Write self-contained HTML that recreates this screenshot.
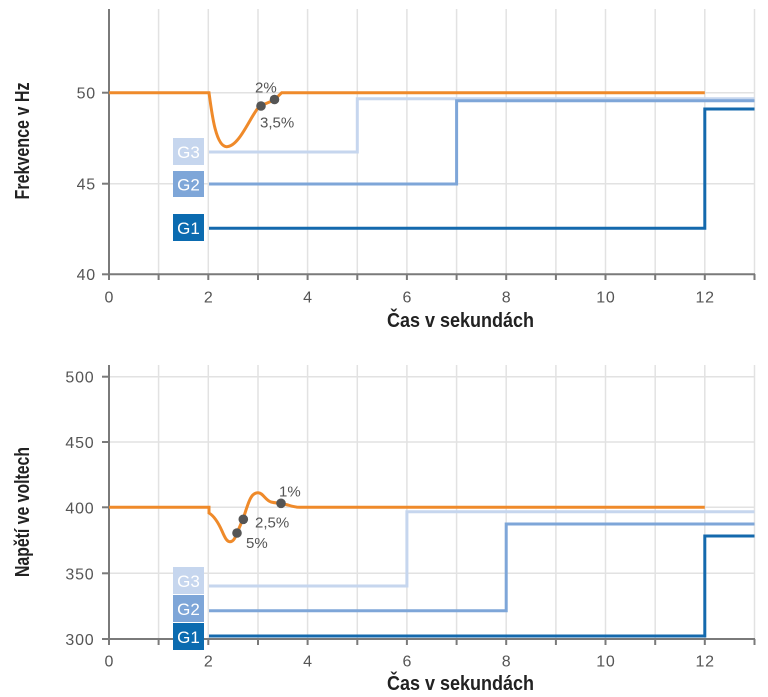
<!DOCTYPE html>
<html><head><meta charset="utf-8"><style>
html,body{margin:0;padding:0;background:#fff;}
svg{display:block;}
text{font-family:"Liberation Sans",sans-serif;}
</style></head><body>
<svg width="768" height="697" viewBox="0 0 768 697" xmlns="http://www.w3.org/2000/svg">
<rect width="768" height="697" fill="#fff"/>
<!-- ===== TOP CHART ===== -->
<g stroke="#e2e2e2" stroke-width="1.5" fill="none">
<line x1="158.6" y1="9" x2="158.6" y2="274"/>
<line x1="208.3" y1="9" x2="208.3" y2="274"/>
<line x1="258" y1="9" x2="258" y2="274"/>
<line x1="307.6" y1="9" x2="307.6" y2="274"/>
<line x1="357.3" y1="9" x2="357.3" y2="274"/>
<line x1="406.9" y1="9" x2="406.9" y2="274"/>
<line x1="456.6" y1="9" x2="456.6" y2="274"/>
<line x1="506.2" y1="9" x2="506.2" y2="274"/>
<line x1="555.9" y1="9" x2="555.9" y2="274"/>
<line x1="605.5" y1="9" x2="605.5" y2="274"/>
<line x1="655.2" y1="9" x2="655.2" y2="274"/>
<line x1="704.8" y1="9" x2="704.8" y2="274"/>
<line x1="754.5" y1="9" x2="754.5" y2="274"/>
<line x1="109" y1="92.7" x2="754.5" y2="92.7"/>
<line x1="109" y1="183.7" x2="754.5" y2="183.7"/>
</g>
<g stroke="#7a7a7a" stroke-width="2" fill="none">
<line x1="109" y1="9" x2="109" y2="275"/>
<line x1="108" y1="274.3" x2="755" y2="274.3"/>
<line x1="102" y1="92.7" x2="109" y2="92.7"/>
<line x1="102" y1="183.7" x2="109" y2="183.7"/>
<line x1="102" y1="274.3" x2="109" y2="274.3"/>
<line x1="109" y1="274" x2="109" y2="280"/>
<line x1="158.6" y1="274" x2="158.6" y2="280"/>
<line x1="208.3" y1="274" x2="208.3" y2="280"/>
<line x1="258" y1="274" x2="258" y2="280"/>
<line x1="307.6" y1="274" x2="307.6" y2="280"/>
<line x1="357.3" y1="274" x2="357.3" y2="280"/>
<line x1="406.9" y1="274" x2="406.9" y2="280"/>
<line x1="456.6" y1="274" x2="456.6" y2="280"/>
<line x1="506.2" y1="274" x2="506.2" y2="280"/>
<line x1="555.9" y1="274" x2="555.9" y2="280"/>
<line x1="605.5" y1="274" x2="605.5" y2="280"/>
<line x1="655.2" y1="274" x2="655.2" y2="280"/>
<line x1="704.8" y1="274" x2="704.8" y2="280"/>
<line x1="754.5" y1="274" x2="754.5" y2="280"/>
</g>
<g fill="#555" font-size="16" letter-spacing="0.8">
<text x="96" y="98.5" text-anchor="end">50</text>
<text x="96" y="189.5" text-anchor="end">45</text>
<text x="96" y="280" text-anchor="end">40</text>
<g text-anchor="middle">
<text x="109.4" y="302.5">0</text>
<text x="208.7" y="302.5">2</text>
<text x="308" y="302.5">4</text>
<text x="407.3" y="302.5">6</text>
<text x="506.6" y="302.5">8</text>
<text x="605.9" y="302.5">10</text>
<text x="705.2" y="302.5">12</text>
</g>
</g>
<text x="460.5" y="327" font-size="20" font-weight="bold" fill="#222" textLength="147" lengthAdjust="spacingAndGlyphs" text-anchor="middle">Čas v sekundách</text>
<text transform="translate(29,141) rotate(-90)" x="0" y="0" font-size="20" font-weight="bold" fill="#222" textLength="117" lengthAdjust="spacingAndGlyphs" text-anchor="middle">Frekvence v Hz</text>
<!-- series -->
<g fill="none" stroke-width="3">
<polyline stroke="#c6d6ee" points="209,152 357.3,152 357.3,98.8 754.5,98.8"/>
<polyline stroke="#7ea6d8" points="209,184 456.6,184 456.6,100.8 754.5,100.8"/>
<polyline stroke="#1469ad" points="209,228.3 704.8,228.3 704.8,109 754.5,109"/>
<path stroke="#ef8a2a" d="M109,92.7 L209,92.7 C212,115 216,146.7 226.7,146.7 C240,146.7 252,112 260,106 L274.3,100 L281.7,92.7 L704.8,92.7"/>
</g>
<g fill="#555">
<circle cx="261" cy="106" r="4.8"/>
<circle cx="274.5" cy="99.5" r="4.8"/>
</g>
<g fill="#555" font-size="15">
<text x="255" y="92.5">2%</text>
<text x="260" y="127.5">3,5%</text>
</g>
<g>
<rect x="173" y="138" width="31" height="27" fill="#c6d6ee"/>
<rect x="173" y="171" width="31" height="26" fill="#7ea6d8"/>
<rect x="173" y="214" width="31" height="27" fill="#0b6bb0"/>
</g>
<g fill="#fff" font-size="17" text-anchor="middle">
<text x="188.5" y="158">G3</text>
<text x="188.5" y="190.5">G2</text>
<text x="188.5" y="234">G1</text>
</g>

<!-- ===== BOTTOM CHART ===== -->
<g stroke="#e2e2e2" stroke-width="1.5" fill="none">
<line x1="158.6" y1="365" x2="158.6" y2="639"/>
<line x1="208.3" y1="365" x2="208.3" y2="639"/>
<line x1="258" y1="365" x2="258" y2="639"/>
<line x1="307.6" y1="365" x2="307.6" y2="639"/>
<line x1="357.3" y1="365" x2="357.3" y2="639"/>
<line x1="406.9" y1="365" x2="406.9" y2="639"/>
<line x1="456.6" y1="365" x2="456.6" y2="639"/>
<line x1="506.2" y1="365" x2="506.2" y2="639"/>
<line x1="555.9" y1="365" x2="555.9" y2="639"/>
<line x1="605.5" y1="365" x2="605.5" y2="639"/>
<line x1="655.2" y1="365" x2="655.2" y2="639"/>
<line x1="704.8" y1="365" x2="704.8" y2="639"/>
<line x1="754.5" y1="365" x2="754.5" y2="639"/>
<line x1="109" y1="376.7" x2="754.5" y2="376.7"/>
<line x1="109" y1="442" x2="754.5" y2="442"/>
<line x1="109" y1="507.3" x2="754.5" y2="507.3"/>
<line x1="109" y1="573.3" x2="754.5" y2="573.3"/>
</g>
<g stroke="#7a7a7a" stroke-width="2" fill="none">
<line x1="109" y1="365" x2="109" y2="640"/>
<line x1="108" y1="639" x2="755" y2="639"/>
<line x1="102" y1="376.7" x2="109" y2="376.7"/>
<line x1="102" y1="442" x2="109" y2="442"/>
<line x1="102" y1="507.3" x2="109" y2="507.3"/>
<line x1="102" y1="573.3" x2="109" y2="573.3"/>
<line x1="102" y1="639" x2="109" y2="639"/>
<line x1="109" y1="639" x2="109" y2="645"/>
<line x1="158.6" y1="639" x2="158.6" y2="645"/>
<line x1="208.3" y1="639" x2="208.3" y2="645"/>
<line x1="258" y1="639" x2="258" y2="645"/>
<line x1="307.6" y1="639" x2="307.6" y2="645"/>
<line x1="357.3" y1="639" x2="357.3" y2="645"/>
<line x1="406.9" y1="639" x2="406.9" y2="645"/>
<line x1="456.6" y1="639" x2="456.6" y2="645"/>
<line x1="506.2" y1="639" x2="506.2" y2="645"/>
<line x1="555.9" y1="639" x2="555.9" y2="645"/>
<line x1="605.5" y1="639" x2="605.5" y2="645"/>
<line x1="655.2" y1="639" x2="655.2" y2="645"/>
<line x1="704.8" y1="639" x2="704.8" y2="645"/>
<line x1="754.5" y1="639" x2="754.5" y2="645"/>
</g>
<g fill="#555" font-size="16" letter-spacing="0.8">
<text x="94.5" y="382.5" text-anchor="end">500</text>
<text x="94.5" y="448" text-anchor="end">450</text>
<text x="94.5" y="513.5" text-anchor="end">400</text>
<text x="94.5" y="579.5" text-anchor="end">350</text>
<text x="94.5" y="645" text-anchor="end">300</text>
<g text-anchor="middle">
<text x="109.4" y="666.5">0</text>
<text x="208.7" y="666.5">2</text>
<text x="308" y="666.5">4</text>
<text x="407.3" y="666.5">6</text>
<text x="506.6" y="666.5">8</text>
<text x="605.9" y="666.5">10</text>
<text x="705.2" y="666.5">12</text>
</g>
</g>
<text x="460.5" y="690" font-size="20" font-weight="bold" fill="#222" textLength="147" lengthAdjust="spacingAndGlyphs" text-anchor="middle">Čas v sekundách</text>
<text transform="translate(29,512) rotate(-90)" x="0" y="0" font-size="20" font-weight="bold" fill="#222" textLength="130" lengthAdjust="spacingAndGlyphs" text-anchor="middle">Napětí ve voltech</text>
<g fill="none" stroke-width="3">
<polyline stroke="#c6d6ee" points="209,586 406.9,586 406.9,511.7 754.5,511.7"/>
<polyline stroke="#7ea6d8" points="209,610.7 506.2,610.7 506.2,524 754.5,524"/>
<polyline stroke="#1469ad" points="209,636 704.8,636 704.8,536 754.5,536"/>
<path stroke="#ef8a2a" d="M109,507.3 L209,507.3 L209,513 C214,516 218,522 222,531 C225,538 227,541.7 230,541.7 C234,541.7 236,536 237,533 L243,519 C248,505 250,492.7 258,492.7 C263,492.7 265,500 271,502 C276,503.3 281,503 288,505 C294,507 297,507.3 300,507.3 L704.8,507.3"/>
</g>
<g fill="#555">
<circle cx="237" cy="533" r="4.8"/>
<circle cx="243.3" cy="519.3" r="4.8"/>
<circle cx="281" cy="503.3" r="4.8"/>
</g>
<g fill="#555" font-size="15">
<text x="279" y="496.5">1%</text>
<text x="255" y="527.5">2,5%</text>
<text x="246" y="548">5%</text>
</g>
<g>
<rect x="173" y="567" width="31" height="27" fill="#c6d6ee"/>
<rect x="173" y="595" width="31" height="27" fill="#7ea6d8"/>
<rect x="173" y="623" width="31" height="27" fill="#0b6bb0"/>
</g>
<g fill="#fff" font-size="17" text-anchor="middle">
<text x="188.5" y="587">G3</text>
<text x="188.5" y="615">G2</text>
<text x="188.5" y="643">G1</text>
</g>
</svg>
</body></html>
